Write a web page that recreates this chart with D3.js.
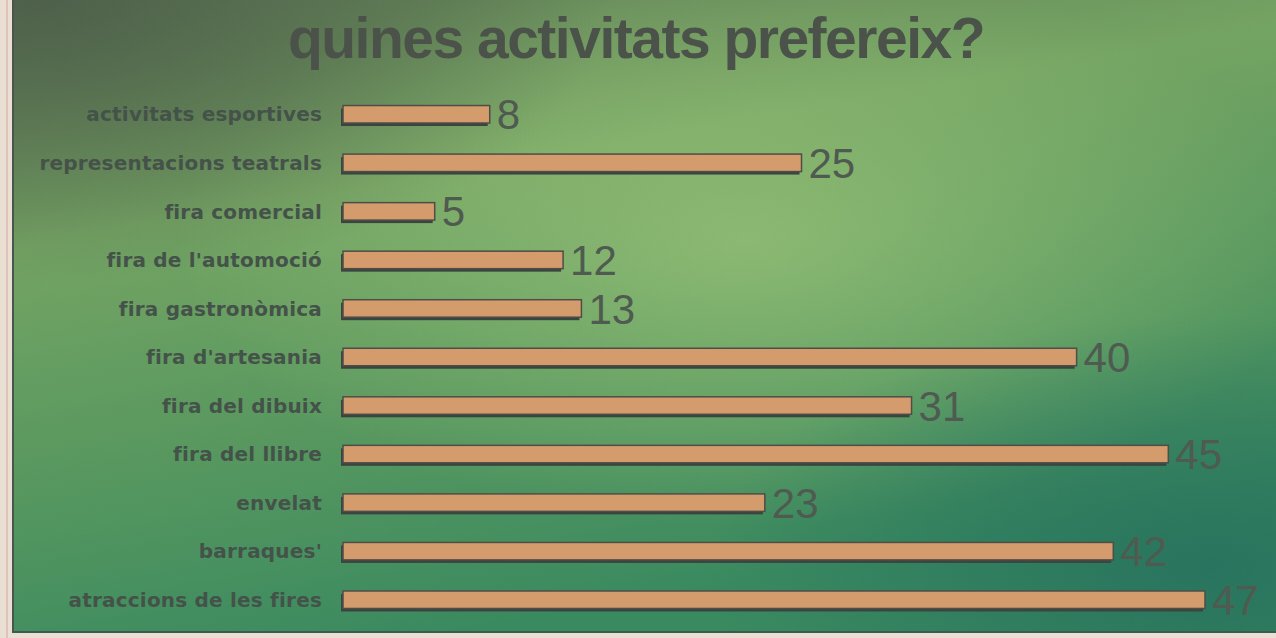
<!DOCTYPE html>
<html>
<head>
<meta charset="utf-8">
<script src="https://cdn.jsdelivr.net/npm/d3@7"></script>
<style>
  html, body { margin: 0; padding: 0; background: #e9dfd2; }
  svg { display: block; }
</style>
</head>
<body>
<svg id="chart"></svg>
<script>
// data
var categories = [
  "activitats esportives",
  "representacions teatrals",
  "fira comercial",
  "fira de l'automoció",
  "fira gastronòmica",
  "fira d'artesania",
  "fira del dibuix",
  "fira del llibre",
  "envelat",
  "barraques'",
  "atraccions de les fires"
];
var values = [8, 25, 5, 12, 13, 40, 31, 45, 23, 42, 47];
var title = "quines activitats prefereix?";

var width = 1276, height = 638;
var svg = d3.select("#chart")
    .attr("width", width)
    .attr("height", height);

var defs = svg.append("defs");

// background: green paper print, darker top-left, teal bottom-right
var lin = defs.append("linearGradient").attr("id", "bgLin")
    .attr("x1", "0").attr("y1", "0").attr("x2", "0.35").attr("y2", "1");
lin.append("stop").attr("offset", "0%").attr("stop-color", "#5f7a55");
lin.append("stop").attr("offset", "35%").attr("stop-color", "#74a463");
lin.append("stop").attr("offset", "70%").attr("stop-color", "#56975f");
lin.append("stop").attr("offset", "100%").attr("stop-color", "#3a8a60");

var glow = defs.append("radialGradient").attr("id", "bgGlow")
    .attr("cx", "0.58").attr("cy", "0.38").attr("r", "0.45");
glow.append("stop").attr("offset", "0%").attr("stop-color", "#9cc57a").attr("stop-opacity", 0.7);
glow.append("stop").attr("offset", "100%").attr("stop-color", "#9cc57a").attr("stop-opacity", 0);

var dark = defs.append("radialGradient").attr("id", "bgDark")
    .attr("cx", "0.02").attr("cy", "0.0").attr("r", "0.45");
dark.append("stop").attr("offset", "0%").attr("stop-color", "#4a5a48").attr("stop-opacity", 0.8);
dark.append("stop").attr("offset", "100%").attr("stop-color", "#4a5a48").attr("stop-opacity", 0);

var teal = defs.append("radialGradient").attr("id", "bgTeal")
    .attr("cx", "0.95").attr("cy", "0.9").attr("r", "0.4");
teal.append("stop").attr("offset", "0%").attr("stop-color", "#25705e").attr("stop-opacity", 0.85);
teal.append("stop").attr("offset", "100%").attr("stop-color", "#25705e").attr("stop-opacity", 0);

var panel = { x: 14, y: 0, w: width - 14, h: 632 };
["bgLin", "bgGlow", "bgDark", "bgTeal"].forEach(function (id) {
    svg.append("rect")
        .attr("x", panel.x).attr("y", panel.y)
        .attr("width", panel.w).attr("height", panel.h)
        .attr("fill", "url(#" + id + ")");
});
// paper edge lines
svg.append("line").attr("x1", 13).attr("x2", 13).attr("y1", 0).attr("y2", 633)
    .attr("stroke", "#4a5550").attr("stroke-width", 2);
svg.append("line").attr("x1", 7).attr("x2", 7).attr("y1", 0).attr("y2", 638)
    .attr("stroke", "#d8a8a0").attr("stroke-width", 1);
svg.append("line").attr("x1", 13).attr("x2", width).attr("y1", 632).attr("y2", 632)
    .attr("stroke", "#3d5a50").attr("stroke-width", 2);

// title
svg.append("text")
    .attr("x", 636).attr("y", 58)
    .attr("text-anchor", "middle")
    .attr("font-family", "Liberation Sans, Arial, sans-serif")
    .attr("font-weight", "bold")
    .attr("font-size", 57)
    .attr("letter-spacing", "-1.5px")
    .attr("fill", "#4b524a")
    .text(title);

var x = d3.scaleLinear().domain([0, 47]).range([343, 1205]);
var y = d3.scaleBand().domain(categories).range([90, 624]).paddingInner(0.64).paddingOuter(0.32);

var rows = svg.append("g").selectAll("g.row")
    .data(categories)
    .enter()
    .append("g")
    .attr("class", "row");

// category labels
rows.append("text")
    .attr("x", 322)
    .attr("y", function (d) { return y(d) + y.bandwidth() / 2; })
    .attr("dy", "0.36em")
    .attr("text-anchor", "end")
    .attr("font-family", "DejaVu Sans, sans-serif")
    .attr("font-weight", "bold")
    .attr("font-size", 20)
    .attr("letter-spacing", "0.2px")
    .attr("fill", "#44524a")
    .text(function (d) { return d; });

// shadow under each bar
rows.append("rect")
    .attr("x", x(0) - 2)
    .attr("y", function (d) { return y(d) + 3; })
    .attr("width", function (d, i) { return x(values[i]) - x(0); })
    .attr("height", y.bandwidth())
    .attr("fill", "#3b4540");

// bars
rows.append("rect")
    .attr("x", x(0))
    .attr("y", function (d) { return y(d); })
    .attr("width", function (d, i) { return x(values[i]) - x(0); })
    .attr("height", y.bandwidth())
    .attr("fill", "#d49c6c")
    .attr("stroke", "#4e4d48")
    .attr("stroke-width", 1.5);

// value labels
rows.append("text")
    .attr("x", function (d, i) { return x(values[i]) + 7; })
    .attr("y", function (d) { return y(d) + y.bandwidth() / 2; })
    .attr("dy", "0.36em")
    .attr("font-family", "Liberation Sans, Arial, sans-serif")
    .attr("font-size", 42)
    .attr("fill", "#4f5a50")
    .text(function (d, i) { return values[i]; });
</script>
</body>
</html>
